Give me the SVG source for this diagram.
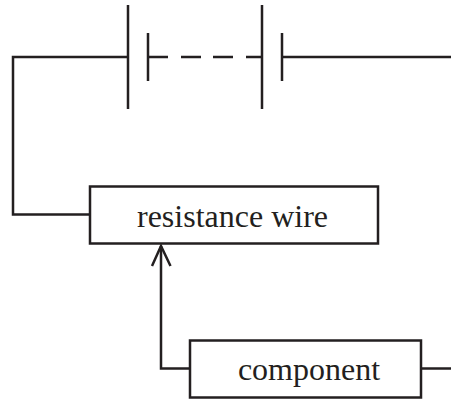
<svg xmlns="http://www.w3.org/2000/svg" width="451" height="401" viewBox="0 0 451 401">
<style>
.w{fill:none;stroke:#231f20;stroke-width:2.5}
.b{fill:#fff;stroke:#231f20;stroke-width:2.5}
.t{font-family:"Liberation Serif",serif;font-size:32px;fill:#231f20;text-anchor:middle}
</style>
<rect width="451" height="401" fill="#fff"/>
<g id="connectors" class="w">
<path d="M128 57H13V214.500H90"/>
<path d="M148 57H168M181 57H201M213 57H233M246 57H262"/>
<path d="M282 57H451"/>
<path d="M128 5V109M148 33V81M262 5V109M282 33V81"/>
<path d="M190 368.500H161V246"/>
<path d="M152 266L161 246L170.500 266"/>
<path d="M421 368.500H451"/>
</g>
<g id="resistance-wire"><rect class="b" x="90" y="186.500" width="288" height="57"/><text class="t" x="232.500" y="227">resistance wire</text></g>
<g id="component"><rect class="b" x="190" y="340.500" width="231" height="57"/><text class="t" x="309" y="380">component</text></g>
</svg>
